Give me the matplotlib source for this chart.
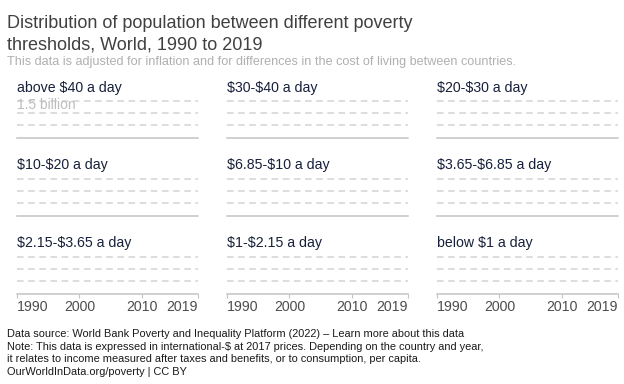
import matplotlib.pyplot as plt
from matplotlib.ticker import FixedLocator

plt.rcParams['font.family'] = ['Liberation Sans', 'DejaVu Sans']
plt.rcParams['text.parse_math'] = False

# data
categories = ["above $40 a day", "$30-$40 a day", "$20-$30 a day",
              "$10-$20 a day", "$6.85-$10 a day", "$3.65-$6.85 a day",
              "$2.15-$3.65 a day", "$1-$2.15 a day", "below $1 a day"]
year_ticks = [1990, 2000, 2010, 2019]
y_grid = [0.5e9, 1.0e9, 1.5e9]
y_label = "1.5 billion"

title = "Distribution of population between different poverty\nthresholds, World, 1990 to 2019"
subtitle = "This data is adjusted for inflation and for differences in the cost of living between countries."
footer = ["Data source: World Bank Poverty and Inequality Platform (2022) \u2013 Learn more about this data",
          "Note: This data is expressed in international-$ at 2017 prices. Depending on the country and year,",
          "it relates to income measured after taxes and benefits, or to consumption, per capita.",
          "OurWorldInData.org/poverty | CC BY"]

W, H = 624, 384
fig = plt.figure(figsize=(W / 100, H / 100), dpi=100)

def px(x, y):
    return x / W, 1 - y / H

col_x = [17, 227, 437]
row_top = [100.7, 178.5, 256.5]
pw, ph = 181, 37

grid_col = '#d3d3d3'
axis_col = '#c4c4c4'
title_col = '#17203a'

for i, cat in enumerate(categories):
    r, c = divmod(i, 3)
    x0, y0 = px(col_x[c], row_top[r] + ph)
    ax = fig.add_axes([x0, y0, pw / W, ph / H])
    ax.set_xlim(year_ticks[0], year_ticks[-1])
    ax.set_ylim(0, y_grid[-1])
    ax.yaxis.set_major_locator(FixedLocator(y_grid))
    ax.grid(axis='y', color=grid_col, linestyle=(0, (4.3, 3)), linewidth=1.1)
    for gl in ax.get_ygridlines():
        gl.set_clip_on(False)
    ax.tick_params(axis='y', length=0, labelleft=False)
    for s in ['top', 'left', 'right']:
        ax.spines[s].set_visible(False)
    ax.spines['bottom'].set_color(axis_col)
    ax.spines['bottom'].set_linewidth(1.1)
    if r == 2:
        ax.set_xticks(year_ticks)
        ax.set_xticklabels([str(y) for y in year_ticks], fontsize=10.2, color='#4d4d4d')
        ax.tick_params(axis='x', length=3, width=0.8, color=axis_col, pad=1.5)
        labs = ax.get_xticklabels()
        labs[0].set_ha('left')
        labs[-1].set_ha('right')
    else:
        ax.set_xticks([])
    ax.annotate(cat, xy=(0, 1), xycoords='axes fraction', xytext=(0, 6.5),
                textcoords='offset points', va='baseline', ha='left',
                fontsize=10.2, color=title_col)
    if i == 0:
        ax.annotate(y_label, xy=(year_ticks[0], y_grid[-1]), xytext=(0, -6),
                    textcoords='offset points', va='baseline', ha='left',
                    fontsize=10, color='#bdbdbd')

fig.text(*px(7, 28), title.split("\n")[0], fontsize=13, color='#404040', va='baseline')
fig.text(*px(7, 49), title.split("\n")[1], fontsize=13, color='#404040', va='baseline')
fig.text(*px(7, 65), subtitle, fontsize=9.1, color='#b0b0b0', va='baseline')
for k, line in enumerate(footer):
    fig.text(*px(7, 337 + 12.7 * k), line, fontsize=7.95, color='#1a1a1a', va='baseline')

fig.savefig('out.png', dpi=100)
